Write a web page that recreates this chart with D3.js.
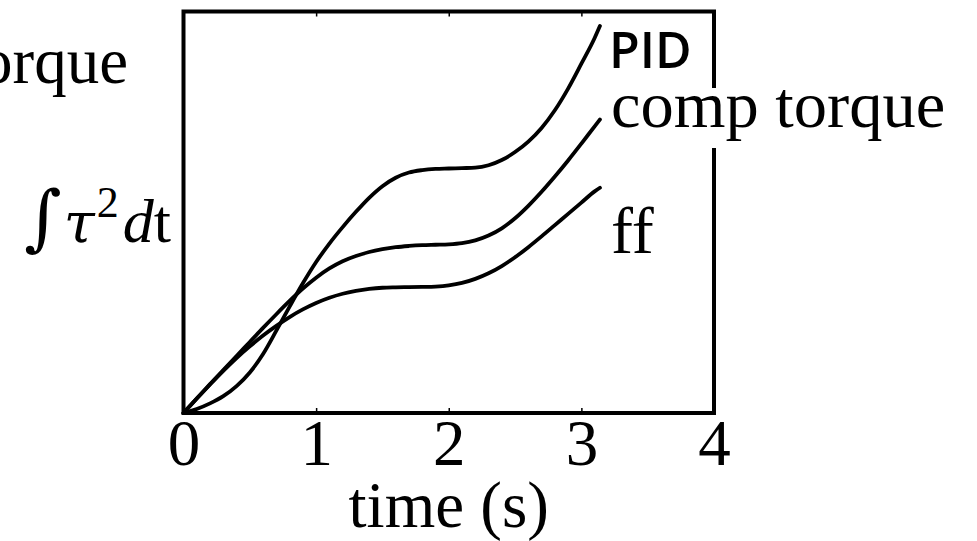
<!DOCTYPE html>
<html>
<head>
<meta charset="utf-8">
<script src="https://cdn.jsdelivr.net/npm/d3@7"></script>
<style>
  html, body { margin: 0; padding: 0; background: #fff; overflow: hidden; }
  svg { display: block; }
  .serif { font-family: "Liberation Serif", "DejaVu Serif", serif; }
</style>
</head>
<body>
<svg id="chart" width="977" height="541"></svg>
<script>
// ---- data ----
const time = [0, 0.1, 0.2, 0.3, 0.4, 0.5, 0.6, 0.7, 0.8, 0.9, 1.0, 1.1, 1.2, 1.3, 1.4, 1.5, 1.6,
              1.7, 1.8, 1.9, 2.0, 2.1, 2.2, 2.3, 2.4, 2.5, 2.6, 2.7, 2.8, 2.9, 3.0, 3.1, 3.14];
const pidValues = [0, 1.0, 2.4, 4.2, 6.7, 10.1, 14.7, 20.5, 26.5, 32.3, 37.6, 42.2, 46.3, 50.1, 53.6, 56.5, 58.6,
                   59.9, 60.5, 60.8, 60.9, 61.0, 61.1, 61.7, 63.0, 65.0, 67.6, 71.0, 75.4, 80.8, 87.0, 93.4, 96.4];
const compTorqueValues = [0, 3.6, 7.2, 10.7, 14.2, 17.7, 21.2, 24.6, 27.9, 31.0, 33.7, 36.0, 37.8, 39.1, 40.1, 40.8, 41.3,
                          41.6, 41.8, 41.9, 42.0, 42.3, 43.0, 44.2, 46.0, 48.5, 51.6, 55.1, 58.9, 62.9, 67.1, 71.4, 73.1];
const ffValues = [0, 3.6, 7.1, 10.5, 13.7, 16.6, 19.3, 21.7, 23.9, 25.8, 27.4, 28.7, 29.7, 30.4, 30.9, 31.2, 31.3,
                  31.35, 31.4, 31.5, 31.8, 32.4, 33.4, 34.8, 36.6, 38.8, 41.3, 44.0, 46.8, 49.6, 52.4, 55.2, 56.1];
const seriesNames = ["PID", "comp torque", "ff"];
const xTicks = [0, 1, 2, 3, 4];
const xDomain = [0, 4];
const yDomain = [0, 100];

// ---- layout ----
const svg = d3.select("#chart");
const plotLeft = 183.5, plotRight = 714, plotTop = 11.5, plotBottom = 413;

const x = d3.scaleLinear().domain(xDomain).range([plotLeft, plotRight]);
const y = d3.scaleLinear().domain(yDomain).range([plotBottom, plotTop]);

const series = [
  { name: seriesNames[0], values: pidValues },
  { name: seriesNames[1], values: compTorqueValues },
  { name: seriesNames[2], values: ffValues }
];

const line = d3.line()
  .x((d, i) => x(time[i]))
  .y(d => y(d))
  .curve(d3.curveMonotoneX);

// curves
svg.append("g").selectAll("path").data(series).join("path")
  .attr("d", d => line(d.values))
  .attr("fill", "none")
  .attr("stroke", "#000")
  .attr("stroke-width", 3.8)
  .attr("stroke-linecap", "round");

// bottom axis (inner ticks)
const gx = svg.append("g")
  .attr("transform", `translate(0,${plotBottom})`)
  .call(d3.axisBottom(x).tickValues(xTicks).tickSize(-5).tickPadding(6).tickFormat(d3.format("d")));
gx.select(".domain").remove();
gx.selectAll(".tick line").attr("stroke", "#000").attr("stroke-width", 1.5);
gx.selectAll(".tick text")
  .attr("class", "serif")
  .attr("font-size", 65)
  .attr("fill", "#000");

// top axis (inner ticks, no labels)
const gt = svg.append("g")
  .attr("transform", `translate(0,${plotTop})`)
  .call(d3.axisTop(x).tickValues(xTicks).tickSize(-5).tickFormat(""));
gt.select(".domain").remove();
gt.selectAll(".tick line").attr("stroke", "#000").attr("stroke-width", 1.5);

// frame
svg.append("rect")
  .attr("x", plotLeft).attr("y", plotTop)
  .attr("width", plotRight - plotLeft).attr("height", plotBottom - plotTop)
  .attr("fill", "none").attr("stroke", "#000").attr("stroke-width", 4);

// x axis title
svg.append("text").attr("class", "serif")
  .attr("x", (plotLeft + plotRight) / 2).attr("y", 527)
  .attr("text-anchor", "middle").attr("font-size", 65)
  .text("time (s)");

// left labels
svg.append("text").attr("class", "serif")
  .attr("x", 128).attr("y", 83)
  .attr("text-anchor", "end").attr("font-size", 65)
  .text("torque");

const ylab = svg.append("text").attr("class", "serif")
  .attr("x", 171).attr("y", 242)
  .attr("text-anchor", "end").attr("font-size", 62);
ylab.append("tspan").attr("font-family", "DejaVu Serif").attr("font-size", 72).text("∫");
ylab.append("tspan").attr("font-family", "DejaVu Serif").attr("font-style", "italic")
  .attr("font-size", 56).attr("dx", 2).text("τ");
ylab.append("tspan").attr("font-size", 44).attr("dy", -25).attr("dx", 2).text("2");
ylab.append("tspan").attr("font-style", "italic").attr("dy", 25).attr("dx", 4).text("d");
ylab.append("tspan").text("t");

// series labels
svg.append("rect")
  .attr("x", 606).attr("y", 88).attr("width", 342).attr("height", 60)
  .attr("fill", "#fff");

svg.append("text")
  .attr("x", 609).attr("y", 68)
  .attr("font-family", "'Open Sans', sans-serif").attr("font-size", 50).attr("font-weight", 600)
  .text(seriesNames[0]);

svg.append("text").attr("class", "serif")
  .attr("x", 611).attr("y", 127).attr("font-size", 66.5)
  .text(seriesNames[1]);

svg.append("text").attr("class", "serif")
  .attr("x", 611).attr("y", 253).attr("font-size", 66)
  .text(seriesNames[2]);
</script>
</body>
</html>
